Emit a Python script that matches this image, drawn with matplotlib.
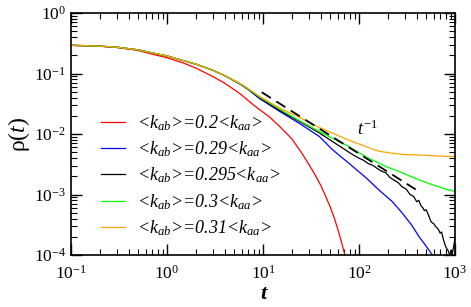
import matplotlib
matplotlib.use("Agg")
import matplotlib.pyplot as plt
import numpy as np

plt.rcParams['font.family'] = 'serif'
plt.rcParams['font.serif'] = ['Liberation Serif', 'DejaVu Serif']
plt.rcParams['mathtext.fontset'] = 'custom'
plt.rcParams['mathtext.rm'] = 'Liberation Serif'
plt.rcParams['mathtext.it'] = 'Liberation Serif:italic'
plt.rcParams['axes.unicode_minus'] = False

# early part shared by the four near-critical curves
t_early = [0.1, 0.15, 0.2, 0.3, 0.5, 0.7, 1, 1.5, 2, 3, 4]
rho_early = [0.292, 0.288, 0.283, 0.272, 0.246, 0.219, 0.195, 0.162, 0.143, 0.113, 0.092]

# <k_ab> = 0.2 <k_aa>
t_red = [0.1, 0.2, 0.3, 0.5, 0.7, 1, 1.5, 2, 3, 4, 5.7, 8, 11.7, 15, 20, 25, 30, 35,
         40, 45, 50, 55, 60, 65, 70, 73]
rho_red = [0.292, 0.282, 0.269, 0.240, 0.209, 0.182, 0.148, 0.123, 0.089, 0.069, 0.047,
           0.030, 0.0191, 0.0132, 0.0083, 0.0050, 0.00316, 0.00209, 0.00141, 0.00093,
           0.00063, 0.00042, 0.00027, 0.000174, 0.000112, 0.000089]

# <k_ab> = 0.29 <k_aa>
t_blue = [5.7, 7, 9.2, 14.8, 23.9, 38.6, 53, 80, 118, 162, 223, 283, 350, 423, 460,
          500, 540, 580, 620]
rho_blue = [0.0675, 0.0545, 0.0385, 0.0238, 0.0150, 0.0091, 0.0055, 0.0032, 0.0019,
            0.00118, 0.00076, 0.00049, 0.00032, 0.00020, 0.000168, 0.000140, 0.000118,
            0.000100, 0.000082]

# <k_ab> = 0.295 <k_aa>
t_black = [5.7, 7, 9.2, 14.8, 23.9, 38, 53, 73, 80, 90, 100, 110, 125, 140, 155, 170,
           190, 210, 230, 255, 280, 310, 340, 370, 400, 420, 440, 460, 480, 500, 520,
           540, 560, 580, 600, 625, 650, 675, 700, 725, 750, 775, 800, 825, 850, 880,
           910, 940, 970, 1000]
rho_black = [0.0682, 0.0553, 0.0400, 0.0247, 0.0161, 0.0106, 0.0075, 0.0054, 0.0049,
             0.00437, 0.00398, 0.00372, 0.00324, 0.00302, 0.00269, 0.00245, 0.00229,
             0.00191, 0.00174, 0.00158, 0.00135, 0.00123, 0.00100, 0.00093, 0.00076,
             0.00080, 0.00066, 0.00061, 0.00054, 0.00056, 0.00049, 0.00042, 0.00036,
             0.00034, 0.00033, 0.00030, 0.00028, 0.00026, 0.00023, 0.00024, 0.00019,
             0.00016, 0.000138, 0.000125, 0.000118, 0.000100, 0.000120, 0.000107,
             0.000141, 0.000190]

# <k_ab> = 0.3 <k_aa>
t_green = [5.7, 7, 9.2, 14.8, 23.9, 38.6, 53, 73, 118, 191, 262, 423, 580, 800, 1000]
rho_green = [0.0688, 0.0558, 0.0410, 0.0260, 0.0166, 0.0110, 0.0085, 0.0066, 0.0042,
             0.0029, 0.0024, 0.00174, 0.00145, 0.00123, 0.00112]

# <k_ab> = 0.31 <k_aa>
t_orange = [5.7, 7, 9.2, 14.8, 23.9, 35, 53, 80, 118, 160, 223, 300, 423, 600, 800, 1000]
rho_orange = [0.0692, 0.0562, 0.0418, 0.0270, 0.0189, 0.0138, 0.0103, 0.0078, 0.0062,
              0.0052, 0.0048, 0.00457, 0.0045, 0.00437, 0.00427, 0.00422]

# t^-1 guide
t_guide = [9.7, 390]
rho_guide = [0.049, 0.00121]

labels = ["<k$_{ab}$>=0.2<k$_{aa}$>", "<k$_{ab}$>=0.29<k$_{aa}$>",
          "<k$_{ab}$>=0.295<k$_{aa}$>", "<k$_{ab}$>=0.3<k$_{aa}$>",
          "<k$_{ab}$>=0.31<k$_{aa}$>"]

fig = plt.figure(figsize=(4.71, 3.07), dpi=100)
ax = fig.add_axes([71 / 471, 1 - 255 / 307, 384 / 471, 242 / 307])

lw = 0.9
ax.plot(t_red, rho_red, color='#ff0000', lw=lw, label=labels[0])
ax.plot(t_early + t_blue, rho_early + rho_blue, color='#0000ff', lw=lw, label=labels[1])
ax.plot(t_early + t_black, rho_early + rho_black, color='black', lw=lw, label=labels[2])
ax.plot(t_early + t_green, rho_early + rho_green, color='#00ff00', lw=lw, label=labels[3])
ax.plot(t_early + t_orange, rho_early + rho_orange, color='#ffa500', lw=lw, label=labels[4])
ax.plot(t_guide, rho_guide, color='black', lw=1.3, ls=(0, (6, 3.5)))

ax.set_xscale('log')
ax.set_yscale('log')
ax.set_xlim(0.1, 1000)
ax.set_ylim(1e-4, 1)

ax.text(95, 0.0118, r'$t^{-1}$', fontsize=13, ha='left', va='center')

ax.tick_params(which='both', direction='in', top=True, right=True, labelsize=12.5)
ax.tick_params(axis='x', which='major', pad=7)
ax.tick_params(which='major', length=8, width=1.0)
ax.tick_params(which='minor', length=4, width=0.8)
for s in ax.spines.values():
    s.set_linewidth(1.2)

ax.set_xlabel('t', fontsize=16, fontstyle='italic', fontweight='bold', labelpad=1)
ax.set_ylabel('ρ($t$)', fontsize=17, labelpad=1)

ax.legend(loc='upper left', bbox_to_anchor=(0.06, 0.615), frameon=False,
          prop={'family': 'serif', 'style': 'italic', 'size': 13},
          handlelength=1.3, handletextpad=0.7, labelspacing=0.36, borderaxespad=0)

fig.savefig('out.png', dpi=100)
